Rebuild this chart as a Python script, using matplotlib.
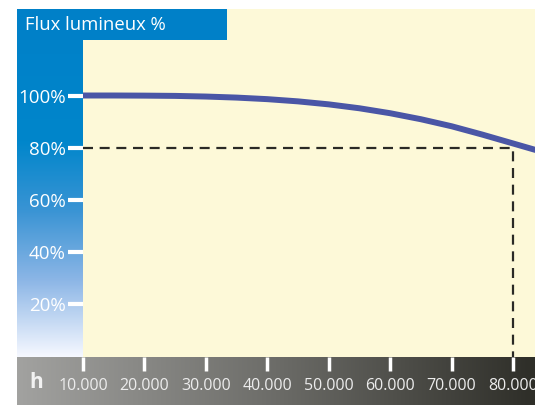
import numpy as np
import matplotlib
matplotlib.use('Agg')
import matplotlib.pyplot as plt
from matplotlib.colors import LinearSegmentedColormap

# data
hours = [10000, 15000, 20000, 25000, 30000, 35000, 40000, 45000, 50000,
         55000, 60000, 65000, 70000, 75000, 80000, 85000]
flux = [100.0, 100.0, 99.95, 99.85, 99.6, 99.2, 98.6, 97.75, 96.6,
        95.1, 93.2, 90.9, 88.2, 85.0, 81.6, 78.2]
x_ticks = [10000, 20000, 30000, 40000, 50000, 60000, 70000, 80000]
x_labels = ['10.000', '20.000', '30.000', '40.000', '50.000', '60.000', '70.000', '80.000']
y_ticks = [20, 40, 60, 80, 100]
y_labels = ['20%', '40%', '60%', '80%', '100%']
ref_hours = 80000
ref_flux = 80

plt.rcParams['font.family'] = ['Open Sans', 'DejaVu Sans']

W, H = 535, 405
fig = plt.figure(figsize=(W / 100, H / 100), dpi=100)
fig.patch.set_facecolor('white')

def box(x0, y0, x1, y1):
    return [x0 / W, 1 - y1 / H, (x1 - x0) / W, (y1 - y0) / H]

# blue panel on the left, fading to white at the bottom
blue = LinearSegmentedColormap.from_list('blue', [
    (0.0, '#0080c8'), (0.38, '#0086cb'), (0.58, '#3a94d4'),
    (0.78, '#8cb6e6'), (1.0, '#f6f8ff')])
bax = fig.add_axes(box(17, 9, 83, 357))
bax.imshow(np.linspace(0, 1, 256).reshape(-1, 1), aspect='auto', cmap=blue)
bax.axis('off')

# grey bar at the bottom
grey = LinearSegmentedColormap.from_list('grey', ['#a2a2a0', '#6c6c68', '#2e2e28'])
gax = fig.add_axes(box(17, 357, 535, 405))
gax.imshow(np.linspace(0, 1, 256).reshape(1, -1), aspect='auto', cmap=grey)
gax.axis('off')
fig.text(36 / W, 1 - 382 / H, 'h', color='#f2f2f2', fontsize=15,
         fontweight='bold', ha='center', va='center')

# title box
tax = fig.add_axes(box(17, 9, 227, 40))
tax.set_facecolor('#0080c8')
tax.set_xticks([])
tax.set_yticks([])
for s in tax.spines.values():
    s.set_visible(False)
tax.text(8 / 210, 0.5, 'Flux lumineux %', color='white', fontsize=13.3,
         ha='left', va='center', transform=tax.transAxes)

# main plot area
ax = fig.add_axes(box(83, 40, 535, 357))
ax.set_zorder(5)
ax.set_facecolor('#fdf9d8')
ax.plot(hours, flux, color='#4a56a6', lw=4.3, solid_capstyle='butt',
        solid_joinstyle='round', zorder=3)
ax.plot([hours[0], ref_hours, ref_hours], [ref_flux, ref_flux, -1],
        color='#2a2a26', lw=1.6, dashes=(4.5, 3), zorder=2)

ax.set_xlim(10000, 83580)
ax.set_ylim(-0.35, 121.3)
ax.set_xticks(x_ticks)
ax.set_xticklabels(x_labels)
ax.set_yticks(y_ticks)
ax.set_yticklabels(y_labels)
ax.tick_params(axis='x', colors='white', length=10, width=2.5, pad=5,
               labelsize=11.5, labelcolor='#ececec')
ax.tick_params(axis='y', colors='white', length=10.5, width=3, pad=2,
               labelsize=13.5, labelcolor='white')
for s in ax.spines.values():
    s.set_visible(False)

# cream area continues beside the title box
cax = fig.add_axes(box(227, 9, 535, 40))
cax.set_facecolor('#fdf9d8')
cax.set_xticks([])
cax.set_yticks([])
for s in cax.spines.values():
    s.set_visible(False)

fig.savefig('out.png', dpi=100)
